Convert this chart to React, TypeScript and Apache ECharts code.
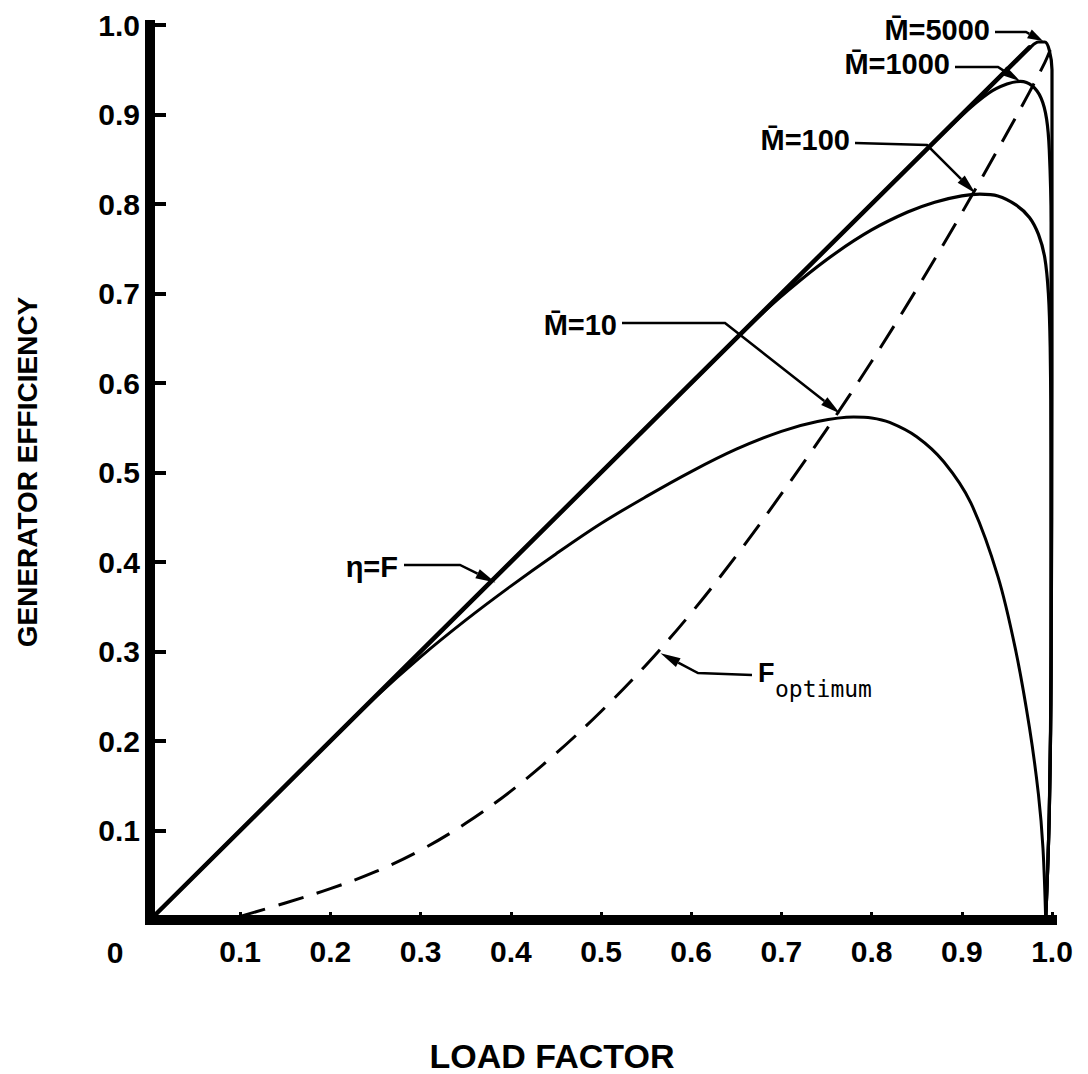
import { useEffect, useRef } from "react";
import * as echarts from "echarts";

type Pt = [number, number];

// Load factor F (x) against generator efficiency η (y)
const etaEqualsF: Pt[] = [
  [0, 0],
  [0.975, 0.975],
];

const mBar10: Pt[] = [
  [0, 0], [0.1, 0.1], [0.2, 0.2], [0.25, 0.249], [0.3, 0.294], [0.35, 0.335],
  [0.4, 0.373], [0.45, 0.409], [0.5, 0.443], [0.55, 0.473], [0.6, 0.501],
  [0.65, 0.526], [0.7, 0.546], [0.74, 0.557], [0.78, 0.562], [0.8, 0.561],
  [0.82, 0.556], [0.85, 0.54], [0.88, 0.512], [0.91, 0.466], [0.94, 0.384],
  [0.96, 0.3], [0.975, 0.215], [0.985, 0.14], [0.99, 0.08], [0.993, 0],
];

const mBar100: Pt[] = [
  [0.6, 0.6], [0.68, 0.679], [0.72, 0.714], [0.76, 0.745], [0.8, 0.771],
  [0.84, 0.791], [0.87, 0.802], [0.9, 0.809], [0.92, 0.811], [0.94, 0.809],
  [0.96, 0.799], [0.975, 0.785], [0.985, 0.766], [0.992, 0.74], [0.996, 0.7],
  [0.998, 0.64], [0.999, 0.52], [0.999, 0.3], [0.997, 0.12], [0.993, 0],
];

const mBar1000: Pt[] = [
  [0.85, 0.85], [0.9, 0.899], [0.93, 0.924], [0.95, 0.934], [0.965, 0.937],
  [0.978, 0.932], [0.988, 0.918], [0.994, 0.895], [0.997, 0.86], [0.999, 0.78],
  [0.999, 0.6], [0.999, 0.3], [0.997, 0.12], [0.993, 0],
];

const mBar5000: Pt[] = [
  [0.9, 0.9], [0.96, 0.96], [0.975, 0.974], [0.985, 0.981], [0.992, 0.981],
  [0.997, 0.972], [1.0, 0.95], [1.0, 0.6], [0.999, 0.3], [0.997, 0.12], [0.993, 0],
];

const fOptimum: Pt[] = [
  [0.1, 0.004], [0.15, 0.019], [0.2, 0.035], [0.25, 0.054], [0.3, 0.078],
  [0.35, 0.108], [0.4, 0.144], [0.45, 0.186], [0.5, 0.233], [0.55, 0.285],
  [0.6, 0.343], [0.65, 0.407], [0.7, 0.476], [0.75, 0.548], [0.8, 0.624],
  [0.85, 0.705], [0.9, 0.79], [0.95, 0.879], [0.975, 0.925], [0.992, 0.958],
  [0.998, 0.972],
];

const xTitle = "LOAD FACTOR";
const yTitle = "GENERATOR EFFICIENCY";
const originLabel = "0";

const FONT = "'Liberation Sans', Arial, sans-serif";
const INK = "#000";

// Callouts: label and leader bends in pixels, arrow tip in data space
interface Callout {
  text: string;
  sub?: string;
  tip: Pt;
  label: [number, number];
  align: "left" | "right";
  bends: [number, number][];
}

const callouts: Callout[] = [
  { text: "M\u0304=5000", tip: [0.99, 0.982], label: [990, 30], align: "right", bends: [[995, 32], [1026, 32]] },
  { text: "M\u0304=1000", tip: [0.965, 0.937], label: [950, 64], align: "right", bends: [[955, 67], [998, 67]] },
  { text: "M\u0304=100", tip: [0.915, 0.812], label: [850, 140], align: "right", bends: [[855, 143], [927, 145]] },
  { text: "M\u0304=10", tip: [0.765, 0.566], label: [617, 325], align: "right", bends: [[622, 323], [725, 323]] },
  { text: "\u03b7=F", tip: [0.383, 0.377], label: [398, 567], align: "right", bends: [[404, 565], [460, 565]] },
  { text: "F", sub: "optimum", tip: [0.566, 0.298], label: [758, 673], align: "left", bends: [[752, 675], [698, 673]] },
];

function buildCallouts(chart: echarts.ECharts) {
  const els: any[] = [];
  for (const c of callouts) {
    const tip = chart.convertToPixel({ gridIndex: 0 }, c.tip) as number[];
    const last = c.bends[c.bends.length - 1];
    const vx = tip[0] - last[0];
    const vy = tip[1] - last[1];
    const len = Math.hypot(vx, vy) || 1;
    const ux = vx / len;
    const uy = vy / len;
    const headLen = Math.min(20, len * 0.8);
    const half = 5;
    const base = [tip[0] - ux * headLen, tip[1] - uy * headLen];
    els.push({
      type: "polyline",
      z: 50,
      shape: { points: [...c.bends, base] },
      style: { stroke: INK, lineWidth: 2.5, fill: null },
    });
    els.push({
      type: "polygon",
      z: 50,
      shape: {
        points: [
          [tip[0], tip[1]],
          [base[0] - uy * half, base[1] + ux * half],
          [base[0] + uy * half, base[1] - ux * half],
        ],
      },
      style: { fill: INK },
    });
    els.push({
      type: "text",
      z: 50,
      x: c.label[0],
      y: c.label[1],
      style: {
        text: c.text,
        fill: INK,
        fontSize: c.sub ? 27 : 29,
        fontWeight: "bold",
        fontFamily: FONT,
        align: c.align,
        verticalAlign: "middle",
        textAlign: c.align,
        textVerticalAlign: "middle",
      },
    });
    if (c.sub) {
      els.push({
        type: "text",
        z: 50,
        x: c.label[0] + 17,
        y: c.label[1] + 16,
        style: {
          text: c.sub,
          fill: INK,
          fontSize: 23,
          fontFamily: "'DejaVu Sans Mono', monospace",
          align: "left",
          verticalAlign: "middle",
          textAlign: "left",
          textVerticalAlign: "middle",
        },
      });
    }
  }
  return els;
}

const tickFormatter = (v: number) => (v === 0 ? "" : v.toFixed(1));

export default function App() {
  const ref = useRef<HTMLDivElement>(null);

  useEffect(() => {
    if (!ref.current) return;
    const chart = echarts.init(ref.current, undefined, { renderer: "svg" });

    const curve = (name: string, data: Pt[], width: number, extra: any = {}) => ({
      name,
      type: "line",
      data,
      showSymbol: false,
      symbol: "none",
      smooth: 0.35,
      clip: false,
      silent: true,
      lineStyle: { color: INK, width, cap: "round", join: "round", ...extra },
    });

    chart.setOption({
      animation: false,
      backgroundColor: "#fff",
      grid: { left: 150, right: 36, top: 25, bottom: 154 },
      xAxis: {
        type: "value",
        min: 0,
        max: 1,
        interval: 0.1,
        axisLine: { show: true, onZero: false, lineStyle: { color: INK, width: 10, cap: "square" } },
        axisTick: { show: true, inside: true, length: 8, lineStyle: { color: INK, width: 3 } },
        axisLabel: {
          formatter: tickFormatter,
          margin: 16,
          color: INK,
          fontSize: 30,
          fontWeight: "bold",
          fontFamily: FONT,
        },
        splitLine: { show: false },
      },
      yAxis: {
        type: "value",
        min: 0,
        max: 1,
        interval: 0.1,
        axisLine: { show: true, onZero: false, lineStyle: { color: INK, width: 10, cap: "square" } },
        axisTick: { show: true, inside: true, length: 16, lineStyle: { color: INK, width: 4 } },
        axisLabel: {
          formatter: tickFormatter,
          margin: 10,
          color: INK,
          fontSize: 30,
          fontWeight: "bold",
          fontFamily: FONT,
        },
        splitLine: { show: false },
      },
      series: [
        curve("F optimum", fOptimum, 3, { type: [26, 14], cap: "butt" }),
        curve("η = F", etaEqualsF, 4.5),
        curve("M = 10", mBar10, 3),
        curve("M = 100", mBar100, 3.2),
        curve("M = 1000", mBar1000, 3.2),
        curve("M = 5000", mBar5000, 3.2),
      ],
    });

    chart.setOption({
      graphic: [
        {
          type: "text",
          x: 115,
          y: 952,
          style: {
            text: originLabel, fill: INK, fontSize: 30, fontWeight: "bold", fontFamily: FONT,
            align: "center", verticalAlign: "middle", textAlign: "center", textVerticalAlign: "middle",
          },
        },
        {
          type: "text",
          x: 552,
          y: 1056,
          style: {
            text: xTitle, fill: INK, fontSize: 34, fontWeight: "bold", fontFamily: FONT,
            align: "center", verticalAlign: "middle", textAlign: "center", textVerticalAlign: "middle",
          },
        },
        {
          type: "text",
          x: 27,
          y: 472,
          rotation: Math.PI / 2,
          style: {
            text: yTitle, fill: INK, fontSize: 28, fontWeight: "bold", fontFamily: FONT,
            align: "center", verticalAlign: "middle", textAlign: "center", textVerticalAlign: "middle",
          },
        },
        ...buildCallouts(chart),
      ],
    });

    return () => chart.dispose();
  }, []);

  return (
    <div
      ref={ref}
      style={{ position: "absolute", left: 0, top: 0, width: 1088, height: 1074, background: "#fff" }}
    />
  );
}
